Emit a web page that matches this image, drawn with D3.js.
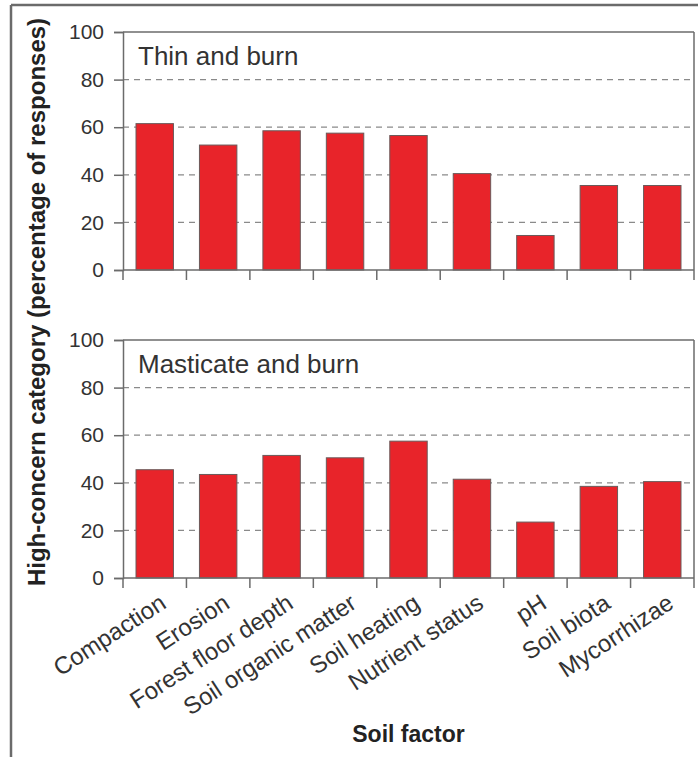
<!DOCTYPE html>
<html><head><meta charset="utf-8">
<script src="https://cdn.jsdelivr.net/npm/d3@7"></script>
<style>
html,body{margin:0;padding:0;background:#fff;}
svg{display:block;font-family:"Liberation Sans",Arial,Helvetica,sans-serif;}
</style></head>
<body>
<svg id="chart" width="698" height="757"></svg>
<script>
const categories = ["Compaction","Erosion","Forest floor depth","Soil organic matter","Soil heating","Nutrient status","pH","Soil biota","Mycorrhizae"];
const thinAndBurn = [61.5, 52.5, 58.5, 57.5, 56.5, 40.5, 14.5, 35.5, 35.5];
const masticateAndBurn = [45.5, 43.5, 51.5, 50.5, 57.5, 41.5, 23.5, 38.5, 40.5];
const panelTitles = ["Thin and burn", "Masticate and burn"];
const yTicks = [0, 20, 40, 60, 80, 100];
const yTitle = "High-concern category (percentage of responses)";
const xTitle = "Soil factor";

const svg = d3.select("#chart");
const axisColor = "#6b6b6b";
const gridColor = "#8a8a8a";
const barColor = "#e8242a";
const barStroke = "#6a5a5a";

// outer frame (left and top lines)
svg.append("line").attr("x1",11).attr("y1",5).attr("x2",11).attr("y2",757)
  .attr("stroke",axisColor).attr("stroke-width",2.5);
svg.append("line").attr("x1",11).attr("y1",5).attr("x2",698).attr("y2",5)
  .attr("stroke",axisColor).attr("stroke-width",2.5);

const xLeft = 123, xRight = 694;
const x = d3.scaleBand().domain(categories).range([xLeft, xRight]).padding(0);
const barFrac = 0.59;

const panels = [
  {title: panelTitles[0], values: thinAndBurn, top: 32, bottom: 270},
  {title: panelTitles[1], values: masticateAndBurn, top: 340, bottom: 578}
];

panels.forEach((p, pi) => {
  const y = d3.scaleLinear().domain([0,100]).range([p.bottom, p.top]);
  const g = svg.append("g");

  // gridlines
  g.selectAll("line.grid").data(yTicks.filter(t => t > 0 && t < 100)).enter()
    .append("line").attr("class","grid")
    .attr("x1", xLeft).attr("x2", xRight)
    .attr("y1", d => y(d)).attr("y2", d => y(d))
    .attr("stroke", gridColor).attr("stroke-width", 1.2)
    .attr("stroke-dasharray", "6,5");

  // bars
  const bw = x.bandwidth() * barFrac;
  g.selectAll("rect.bar").data(p.values).enter()
    .append("rect").attr("class","bar")
    .attr("x", (d,i) => x(categories[i]) + (x.bandwidth() - bw)/2)
    .attr("width", bw)
    .attr("y", d => y(d))
    .attr("height", d => y(0) - y(d))
    .attr("fill", barColor)
    .attr("stroke", barStroke).attr("stroke-width", 1);

  // box: top and right
  g.append("line").attr("x1", xLeft).attr("x2", xRight).attr("y1", p.top).attr("y2", p.top)
    .attr("stroke", axisColor).attr("stroke-width", 1.5);
  g.append("line").attr("x1", xRight).attr("x2", xRight).attr("y1", p.top).attr("y2", p.bottom)
    .attr("stroke", axisColor).attr("stroke-width", 1.5);

  // y axis
  const yAxis = d3.axisLeft(y).tickValues(yTicks).tickSize(9).tickPadding(10);
  const ya = g.append("g").attr("transform", `translate(${xLeft},0)`).call(yAxis);
  ya.select(".domain").attr("stroke", axisColor).attr("stroke-width", 1.5);
  ya.selectAll(".tick line").attr("stroke", axisColor).attr("stroke-width", 1.5);
  ya.selectAll(".tick text").attr("fill", "#333").style("font-size", "21px")
    .style("font-family", '"Liberation Sans",Arial,sans-serif');

  // x axis: ticks at band boundaries
  const bounds = categories.map(c => x(c)).concat([xRight]);
  g.append("line").attr("x1", xLeft).attr("x2", xRight).attr("y1", p.bottom).attr("y2", p.bottom)
    .attr("stroke", axisColor).attr("stroke-width", 1.5);
  g.selectAll("line.xt").data(bounds).enter().append("line").attr("class","xt")
    .attr("x1", d => d).attr("x2", d => d)
    .attr("y1", p.bottom).attr("y2", p.bottom + 10)
    .attr("stroke", axisColor).attr("stroke-width", 1.5);

  // panel title
  g.append("text").attr("x", 138).attr("y", p.top + 33)
    .attr("fill", "#333").style("font-size", "26px").text(p.title);

  // category labels on bottom panel
  if (pi === 1) {
    g.selectAll("text.cat").data(categories).enter().append("text").attr("class","cat")
      .attr("transform", d => `translate(${x(d) + x.bandwidth()/2 + 13},${p.bottom + 29}) rotate(-33)`)
      .attr("text-anchor", "end")
      .attr("fill", "#333").style("font-size", "24px")
      .text(d => d);
  }
});

// axis titles
svg.append("text")
  .attr("transform", `translate(45,302) rotate(-90)`)
  .attr("text-anchor", "middle")
  .attr("fill", "#222").style("font-size", "24px").style("font-weight", "bold")
  .text(yTitle);

svg.append("text")
  .attr("x", (xLeft + xRight)/2).attr("y", 742)
  .attr("text-anchor", "middle")
  .attr("fill", "#222").style("font-size", "23px").style("font-weight", "bold")
  .text(xTitle);
</script>
</body></html>
